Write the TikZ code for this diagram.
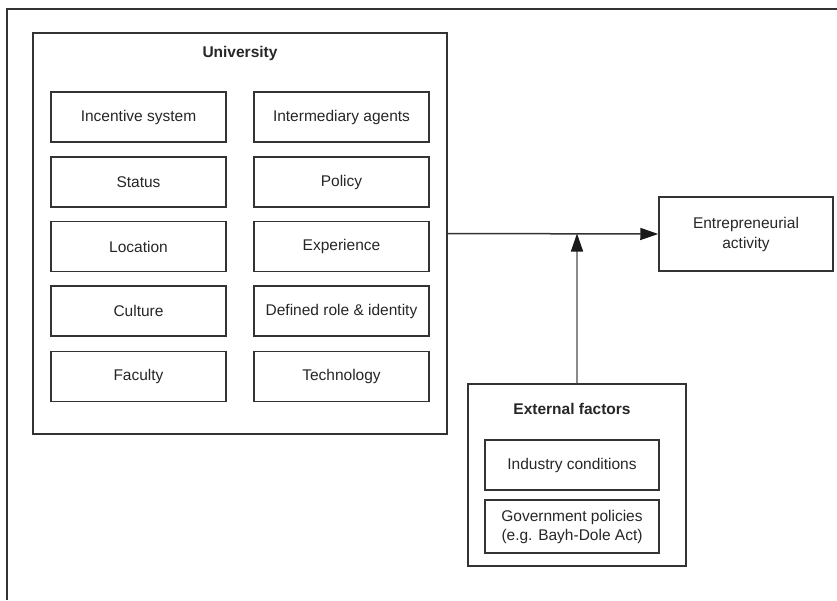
\documentclass[tikz,border=0pt]{standalone}
\usepackage{fontspec}
\setmainfont{Liberation Sans}
\usetikzlibrary{arrows.meta}
\definecolor{ink}{HTML}{333333}
\definecolor{greyline}{HTML}{8A8A8A}
\tikzset{bigtri/.tip={Triangle[length=18pt,width=12pt,color=black!90]}}
\begin{document}
\begin{tikzpicture}[x=1pt,y=-1pt,
  box/.style={draw=ink,line width=1.5pt,minimum width=175pt,minimum height=50pt,inner sep=0pt,font=\fontsize{15.5}{17}\selectfont,text=black!85,align=center},
  frame/.style={draw=ink,line width=1.2pt,inner sep=0pt},
  ttl/.style={font=\fontsize{15.5}{17}\selectfont\bfseries,text=black!85,inner sep=0pt},
  arr/.style={line width=1.5pt}]
\useasboundingbox (0,0) rectangle (837,600);
% outer frame
\draw[line width=2pt,ink] (7,600) -- (7,9) -- (837,9);
% University
\node[frame,minimum width=414pt,minimum height=401pt] (univ) at (240,233.5) {};
\node[ttl] (utitle) at (240,53) {University};
\node[box] (inc) at (138.5,117) {Incentive system};
\node[box] (sta) at (138.5,182) {Status};
\node[box] (loc) at (138.5,246.5) {Location};
\node[box] (cul) at (138.5,311) {Culture};
\node[box] (fac) at (138.5,376.5) {Faculty};
\node[box] (int) at (341.5,117) {Intermediary agents};
\node[box] (pol) at (341.5,182) {Policy};
\node[box] (exp) at (341.5,246.5) {Experience};
\node[box] (def) at (341.5,311) {Defined role \& identity};
\node[box] (tec) at (341.5,376.5) {Technology};
% Entrepreneurial activity
\node[box,minimum width=174pt,minimum height=74pt,font=\fontsize{15.5}{20}\selectfont] (ent) at (746,234) {Entrepreneurial\\activity};
% External factors
\node[frame,minimum width=218pt,minimum height=182pt] (ext) at (577,475) {};
\node[ttl] (etitle) at (572,409) {External factors};
\node[box,minimum width=174pt] (ind) at (572,465) {Industry conditions};
\node[box,minimum width=174pt,minimum height=53pt,font=\fontsize{15.5}{19}\selectfont] (gov) at (572,526.5) {Government policies\\(e.g. Bayh-Dole Act)};
% arrows
\coordinate (meet) at (ext.north |- univ.east);
\draw[arr,ink,-bigtri] (univ.east) -- (ent.west);
\draw[arr,greyline,bigtri-] (meet) -- (ext.north);
\end{tikzpicture}
\end{document}
